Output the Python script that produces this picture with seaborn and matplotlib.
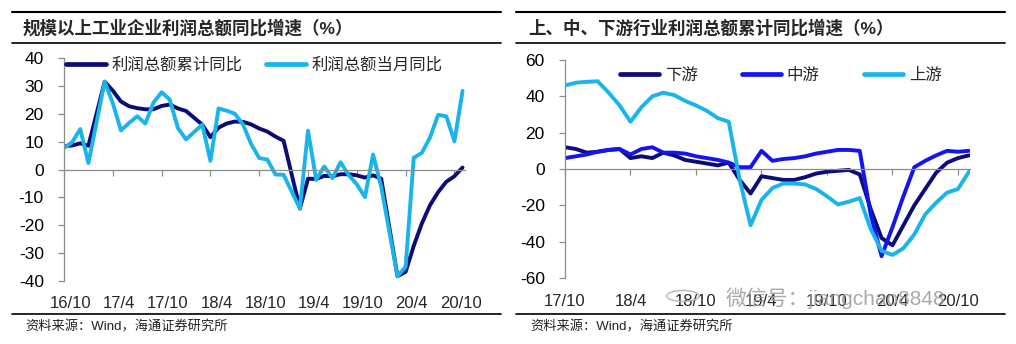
import numpy as np
import pandas as pd
import matplotlib
matplotlib.use("Agg")
import matplotlib.pyplot as plt
from matplotlib.lines import Line2D
import seaborn as sns

# ---------------- data ----------------
# Left chart: months (no January data), values in %
left_months = ["2016-09", "2016-10", "2016-11", "2016-12",
               "2017-02", "2017-03", "2017-04", "2017-05", "2017-06", "2017-07", "2017-08",
               "2017-09", "2017-10", "2017-11", "2017-12",
               "2018-02", "2018-03", "2018-04", "2018-05", "2018-06", "2018-07", "2018-08",
               "2018-09", "2018-10", "2018-11", "2018-12",
               "2019-02", "2019-03", "2019-04", "2019-05", "2019-06", "2019-07", "2019-08",
               "2019-09", "2019-10", "2019-11", "2019-12",
               "2020-02", "2020-03", "2020-04", "2020-05", "2020-06", "2020-07", "2020-08",
               "2020-09", "2020-10"]
profit_cum = [8.4, 8.6, 9.4, 8.5,
              31.5, 28.3, 24.4, 22.7, 22.0, 21.6, 21.6, 22.8, 23.3, 21.9, 21.0,
              16.1, 11.6, 15.0, 16.5, 17.2, 17.1, 16.2, 14.7, 13.6, 11.8, 10.3,
              -14.0, -3.3, -3.4, -2.3, -2.4, -1.7, -1.7, -2.1, -2.9, -2.1, -3.3,
              -38.3, -36.7, -27.4, -19.3, -12.8, -8.1, -4.4, -2.4, 0.7]
profit_month = [7.7, 9.8, 14.5, 2.3,
                31.5, 23.8, 14.0, 16.7, 19.1, 16.5, 24.0, 27.7, 25.1, 14.9, 10.8,
                16.1, 3.1, 21.9, 21.1, 20.0, 16.2, 9.2, 4.1, 3.6, -1.8, -1.9,
                -14.0, 13.9, -3.7, 1.1, -3.1, 2.6, -2.0, -5.3, -9.9, 5.4, -6.3,
                -38.3, -34.9, 4.2, 6.0, 11.5, 19.6, 19.1, 10.1, 28.2]
left_names = ["利润总额累计同比", "利润总额当月同比"]
left_ticklabels = ["16/10", "17/4", "17/10", "18/4", "18/10", "19/4", "19/10", "20/4", "20/10"]
left_yticks = [40, 30, 20, 10, 0, -10, -20, -30, -40]

# Right chart: monthly positions, values in %
right_start = "2017-10"
downstream = [12, 11, 9, 9.5, 10.5, 11, 6, 7, 6, 9, 7.5, 5, 4, 3, 2, 3.5, -6, -13.5, -4,
              -5, -6, -6, -4.5, -2.5, -1.5, -1, -0.5, -3, -22, -38, -42, -31, -20, -11,
              -2, 3.5, 6, 7.5]
midstream = [6, 7, 8, 9.5, 10.5, 11, 8, 11, 12, 9, 9, 8.5, 7, 6, 5, 3.5, 1, 1, 10,
             4.5, 5.5, 6, 7, 8.5, 9.5, 10.5, 10.5, 10, -25, -48, -32, -15, 1, 4.5,
             7.5, 10, 9.5, 10]
upstream = [46, 47.5, 48, 48.3, 42, 35, 26, 34, 40, 42, 40.7, 37.5, 35, 32, 28, 26, -6,
            -31, -17, -10.5, -8, -8, -8.5, -11, -15, -19.5, -18, -16, -33, -45, -47.3,
            -43.6, -36, -25, -18.5, -13, -11, -1.5]
right_names = ["下游", "中游", "上游"]
right_ticklabels = ["17/10", "18/4", "18/10", "19/4", "19/10", "20/4", "20/10"]
right_yticks = [60, 40, 20, 0, -20, -40, -60]

titles = ["规模以上工业企业利润总额同比增速（%）", "上、中、下游行业利润总额累计同比增速（%）"]
source = "资料来源：Wind，海通证券研究所"
watermark = "微信号：jiangchao8848"

NAVY = "#0c0c78"
LIGHT = "#19b4ec"
BLUE = "#1414f0"
GRAY = "#8c8c8c"

# ---------------- styling ----------------
sns.set_theme(style="white")
plt.rcParams["font.family"] = ["Liberation Sans", "Noto Sans CJK SC", "DejaVu Sans"]
plt.rcParams["axes.unicode_minus"] = False

W, H = 1016, 344
fig = plt.figure(figsize=(W / 100, H / 100), dpi=100)

def fx(px):
    return px / W

def fy(py):
    return 1 - py / H

# ---------------- left chart ----------------
base = pd.Period("2016-09", "M")
lidx = [(pd.Period(m, "M") - base).n for m in left_months]
dfL = pd.DataFrame({
    "x": lidx * 2,
    "v": profit_cum + profit_month,
    "s": [left_names[0]] * len(lidx) + [left_names[1]] * len(lidx),
})
axL = fig.add_axes([fx(64), fy(281), fx(401), (281 - 58) / H])
sns.lineplot(data=dfL, x="x", y="v", hue="s", hue_order=left_names,
             palette=[NAVY, LIGHT], linewidth=2.8, ax=axL, legend=False, sort=False)

# ---------------- right chart ----------------
n = len(upstream)
ridx = list(range(n))
dfR = pd.DataFrame({
    "x": ridx * 3,
    "v": downstream + midstream + upstream,
    "s": [right_names[0]] * n + [right_names[1]] * n + [right_names[2]] * n,
})
axR = fig.add_axes([fx(565), fy(278), fx(405), (278 - 60) / H])
sns.lineplot(data=dfR, x="x", y="v", hue="s", hue_order=right_names,
             palette=[NAVY, BLUE, LIGHT], linewidth=2.8, ax=axR, legend=False, sort=False)

def style_axis(ax, yticks, ylim, xlim, tick_pos, label_pos, labels, label_pad):
    ax.set_ylim(*ylim)
    ax.set_xlim(*xlim)
    ax.set_xlabel("")
    ax.set_ylabel("")
    for s in ["top", "right"]:
        ax.spines[s].set_visible(False)
    ax.spines["left"].set_color(GRAY)
    ax.spines["left"].set_linewidth(0.9)
    ax.spines["bottom"].set_position(("data", 0))
    ax.spines["bottom"].set_color(GRAY)
    ax.spines["bottom"].set_linewidth(0.9)
    ax.set_yticks(yticks)
    ax.set_yticklabels([str(v) for v in yticks])
    ax.tick_params(axis="y", direction="out", length=4, width=0.9, color=GRAY,
                   pad=10.5, labelsize=12.5, labelcolor="black", left=True)
    ax.set_xticks(tick_pos)
    ax.tick_params(axis="x", direction="out", length=4, width=0.9, color=GRAY,
                   labelbottom=False, bottom=True)
    ax.grid(False)
    sec = ax.secondary_xaxis(0)
    sec.set_xticks(label_pos)
    sec.set_xticklabels(labels)
    sec.tick_params(length=0, pad=label_pad, labelsize=12)
    sec.spines["bottom"].set_visible(False)

style_axis(axL, left_yticks, (-40, 40), (0, 49.3),
           [6 * k for k in range(9)], [6 * k + 0.75 for k in range(9)],
           left_ticklabels, 10.5)
style_axis(axR, right_yticks, (-60, 60), (0, 37.1),
           [6 * k for k in range(7)], [6 * k for k in range(7)],
           right_ticklabels, 11.5)

# legends
hL = [Line2D([], [], color=NAVY, lw=3.4), Line2D([], [], color=LIGHT, lw=3.4)]
axL.legend(hL, left_names, loc="center left", bbox_to_anchor=(0.005, 0.969), ncol=2,
           frameon=False, fontsize=11.8, handlelength=2.45, handletextpad=0.35,
           columnspacing=1.4, borderpad=0, borderaxespad=0)
hR = [Line2D([], [], color=NAVY, lw=3.4), Line2D([], [], color=BLUE, lw=3.4),
      Line2D([], [], color=LIGHT, lw=3.4)]
axR.legend(hR, right_names, loc="center left", bbox_to_anchor=(0.135, 0.931), ncol=3,
           frameon=False, fontsize=11.8, handlelength=2.4, handletextpad=0.35,
           columnspacing=2.7, borderpad=0, borderaxespad=0)

# ---------------- frame text & rules ----------------
for x0, x1, tx in [(12, 501, 23), (516, 1005, 528)]:
    fig.add_artist(Line2D([fx(x0), fx(x1)], [fy(12), fy(12)], transform=fig.transFigure,
                          color="black", lw=1.5))
    fig.add_artist(Line2D([fx(x0), fx(x1)], [fy(43), fy(43)], transform=fig.transFigure,
                          color="black", lw=1.2))
    fig.add_artist(Line2D([fx(x0), fx(x1)], [fy(314), fy(314)], transform=fig.transFigure,
                          color="black", lw=1.2))
    fig.text(fx(tx + 2), fy(327.5), source, fontsize=9.5, va="center", ha="left",
             color="#222222")
fig.text(fx(23), fy(28), titles[0], fontsize=12.6, fontweight="bold", va="center", ha="left")
fig.text(fx(528), fy(28), titles[1], fontsize=12.6, fontweight="bold", va="center", ha="left")

# watermark over the right x labels (as in the source image)
fig.text(fx(726), fy(298), watermark, fontsize=15, va="center", ha="left",
         color="#9a9a9a", alpha=0.85, zorder=10)
circ = plt.Circle((fx(683), fy(296)), 0.016, transform=fig.transFigure, fill=False,
                  ec="#b5b5b5", lw=1.0)
fig.add_artist(circ)

fig.savefig("out.png", dpi=100, facecolor="white")
